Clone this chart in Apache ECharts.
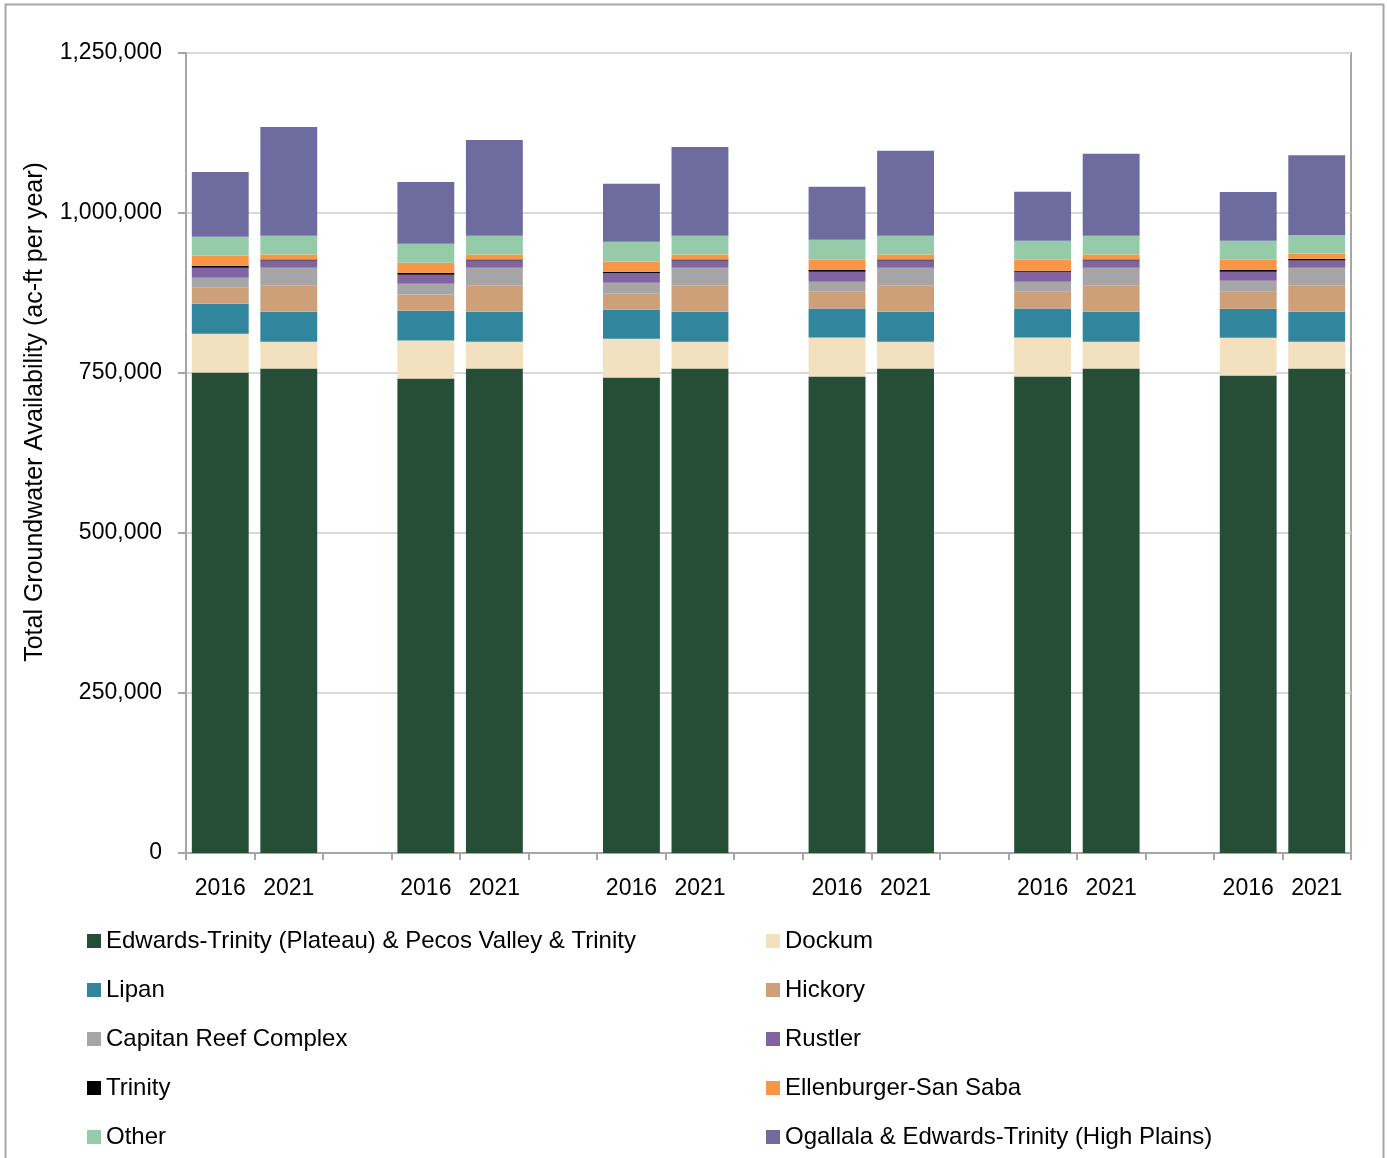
<!DOCTYPE html>
<html><head><meta charset="utf-8">
<script src="https://cdn.jsdelivr.net/npm/echarts@6/dist/echarts.min.js"></script>
<style>html,body{margin:0;padding:0;background:#fff}#c{width:1387px;height:1158px}</style>
</head><body><div id="c"></div>
<script>
const years = ['2016','2021'];
const groupCount = 6;
const edwards     = [750600, 756900, 741300, 756900, 742800, 756900, 744400, 756900, 744400, 756900, 745900, 756900];
const dockum      = [60900, 42100, 59300, 42100, 60900, 42100, 60900, 42100, 60900, 42100, 59300, 42100];
const lipan       = [46800, 46800, 46800, 46800, 45300, 46800, 45300, 46800, 45300, 46800, 45300, 46800];
const hickory     = [25000, 40600, 25400, 40600, 25000, 40600, 26500, 40600, 26500, 40600, 26500, 40600];
const capitan     = [15600, 28100, 16700, 28100, 17200, 28100, 15600, 28100, 15600, 28100, 17200, 28100];
const rustler     = [15600, 11400, 14000, 11400, 15100, 11400, 15600, 11400, 15600, 11400, 14000, 11400];
const trinity     = [3100, 1500, 3100, 1500, 2000, 1500, 3100, 1500, 1600, 1500, 3100, 2500];
const ellenburger = [15600, 7800, 15600, 7800, 15600, 7800, 15600, 7800, 17200, 7800, 15600, 7800];
const other       = [29600, 29200, 29700, 29200, 31200, 29200, 31200, 29200, 29600, 29200, 29600, 29200];
const ogallala    = [101400, 170100, 96700, 149800, 90500, 138900, 82700, 132700, 76500, 128000, 76500, 124900];
const yTitle = 'Total Groundwater Availability (ac-ft per year)';

const seriesDefs = [
  ['Edwards-Trinity (Plateau) & Pecos Valley & Trinity', edwards, '#264E37'],
  ['Dockum', dockum, '#F2E0BF'],
  ['Lipan', lipan, '#31869E'],
  ['Hickory', hickory, '#CDA07A'],
  ['Capitan Reef Complex', capitan, '#A6A6A6'],
  ['Rustler', rustler, '#8064A2'],
  ['Trinity', trinity, '#000000'],
  ['Ellenburger-San Saba', ellenburger, '#F79646'],
  ['Other', other, '#95CBA9'],
  ['Ogallala & Edwards-Trinity (High Plains)', ogallala, '#6E6B9E']
];

// categories with an empty slot between groups
const categories = [];
for (let g = 0; g < groupCount; g++) {
  if (g > 0) categories.push('');
  years.forEach(y => categories.push(y));
}
function spread(arr) {
  const out = [];
  for (let g = 0; g < groupCount; g++) {
    if (g > 0) out.push('-');
    out.push(arr[2*g], arr[2*g+1]);
  }
  return out;
}

const FONT = 'Liberation Sans';
const chart = echarts.init(document.getElementById('c'), null, {renderer:'canvas'});
const legendText = {fontFamily: FONT, fontSize: 24, color: '#000'};
chart.setOption({
  animation: false,
  backgroundColor: '#fff',
  textStyle: {fontFamily: FONT},
  graphic: [
    {type:'rect', shape:{x:5.5, y:4.5, width:1378, height:1170}, style:{fill:'none', stroke:'#A6A6A6', lineWidth:2}, silent:true},
    {type:'text', x:35, y:412, rotation:Math.PI/2, silent:true,
     style:{text:yTitle, fontFamily:FONT, fontSize:25, fill:'#000', textAlign:'center', textVerticalAlign:'middle'}}
  ],
  grid: {left:186, right:36, top:53, bottom:305, show:true, borderColor:'#A6A6A6', borderWidth:2},
  legend: [
    {orient:'vertical', left:82, top:924, itemWidth:14, itemHeight:14, itemGap:25, icon:'rect', textStyle:legendText,
     data: [seriesDefs[0][0], seriesDefs[2][0], seriesDefs[4][0], seriesDefs[6][0], seriesDefs[8][0]]},
    {orient:'vertical', left:761, top:924, itemWidth:14, itemHeight:14, itemGap:25, icon:'rect', textStyle:legendText,
     data: [seriesDefs[1][0], seriesDefs[3][0], seriesDefs[5][0], seriesDefs[7][0], seriesDefs[9][0]]}
  ],
  xAxis: {
    type:'category', data: categories,
    axisLine:{lineStyle:{color:'#A6A6A6', width:2}},
    axisTick:{show:true, length:7, lineStyle:{color:'#A6A6A6', width:2}, interval:0},
    axisLabel:{interval:0, color:'#000', fontSize:23, fontFamily:FONT, margin:24}
  },
  yAxis: {
    type:'value', min:0, max:1250000, interval:250000,
    axisLine:{show:true, lineStyle:{color:'#A6A6A6', width:2}},
    axisTick:{show:true, length:8, lineStyle:{color:'#A6A6A6', width:2}},
    axisLabel:{color:'#000', fontSize:23, fontFamily:FONT, margin:24, formatter: v => v.toLocaleString('en-US')},
    splitLine:{lineStyle:{color:'#D9D9D9', width:2}}
  },
  series: seriesDefs.map(([name, arr, color]) => ({
    name, type:'bar', stack:'total', data: spread(arr), barCategoryGap:'17%',
    itemStyle:{color}, emphasis:{disabled:true}
  }))
});
</script></body></html>
